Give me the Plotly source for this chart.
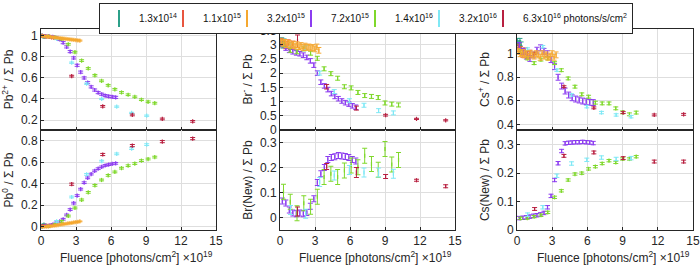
import plotly.graph_objects as go

# ---------------- series ----------------
NAMES = ["1.3x10<sup>14</sup>", "1.1x10<sup>15</sup>", "3.2x10<sup>15</sup>", "7.2x10<sup>15</sup>",
         "1.4x10<sup>16</sup>", "3.2x10<sup>16</sup>", "6.3x10<sup>16</sup> photons/s/cm<sup>2</sup>"]
COLORS = ["#2ca089", "#e8553f", "#f5a830", "#8c3cf0", "#7fd82b", "#7fe8f5", "#b82040"]

# ---------------- data (fluence in 1e19 photons/cm^2) ----------------
# 1.3e14
X_PB_TEAL = [0.05, 0.15, 0.25, 0.35]
PB2_TEAL = [1.0, 0.995, 0.99, 0.99]
PB0_TEAL = [0.005, 0.01, 0.02, 0.01]
X_HC_TEAL = [0.05, 0.15, 0.25, 0.35]
BRM_TEAL = [3.05, 3.12, 3.0, 3.08]
CSP_TEAL = [1.1, 1.08, 1.1, 1.07]

# 1.1e15
X_PB_RED = [0.1, 0.3, 0.5, 0.7, 0.9, 1.1]
PB2_RED = [1.0, 0.995, 0.99, 0.99, 0.985, 0.98]
PB0_RED = [0.005, 0.008, 0.01, 0.012, 0.015, 0.018]
X_HC_RED = [0.1, 0.3, 0.5, 0.7, 0.9, 1.1]
BRM_RED = [3.1, 3.05, 2.98, 3.05, 2.95, 3.0]
CSP_RED = [1.05, 1.03, 1.0, 1.02, 0.99, 1.0]

# 3.2e15
X_PB_ORANGE = [0.1, 0.27, 0.44, 0.61, 0.78, 0.95, 1.12, 1.29, 1.46, 1.63, 1.8, 1.97, 2.14, 2.31, 2.48,
               2.65, 2.82, 2.99, 3.16, 3.33]
PB2_ORANGE = [0.998, 0.996, 0.994, 0.992, 0.99, 0.988, 0.985, 0.982, 0.98, 0.978, 0.975, 0.973, 0.971,
              0.969, 0.966, 0.964, 0.962, 0.96, 0.957, 0.955]
PB0_ORANGE = [0.0, 0.0, 0.002, 0.004, 0.006, 0.008, 0.01, 0.013, 0.016, 0.019, 0.022, 0.025, 0.028, 0.031,
              0.034, 0.037, 0.04, 0.043, 0.046, 0.05]
X_HC_ORANGE = [0.1, 0.27, 0.44, 0.61, 0.78, 0.95, 1.12, 1.29, 1.46, 1.63, 1.8, 1.97, 2.14, 2.31, 2.48,
               2.65, 2.82, 2.99, 3.16, 3.33]
BRM_ORANGE = [3.1, 3.05, 3.08, 3.0, 3.05, 2.98, 3.02, 2.95, 3.0, 2.93, 2.97, 2.9, 2.95, 2.9, 2.92, 2.88,
              2.9, 2.85, 2.92, 2.8]
CSP_ORANGE = [1.02, 1.0, 1.01, 0.99, 1.0, 0.98, 1.0, 0.99, 0.98, 1.0, 0.99, 0.97, 1.0, 0.98, 0.99, 0.97,
              0.98, 1.0, 0.97, 0.99]

# 7.2e15
X_PB_PURPLE = [0.1, 0.4, 0.7, 1.0, 1.3, 1.6, 1.9, 2.2, 2.5, 2.8, 3.1, 3.4, 3.7, 4.0, 4.3, 4.6, 4.9, 5.2,
               5.5, 5.8, 6.1, 6.4]
PB2_PURPLE = [1.0, 0.997, 0.994, 0.99, 0.98, 0.965, 0.935, 0.895, 0.85, 0.79, 0.72, 0.655, 0.6, 0.555,
              0.515, 0.485, 0.46, 0.445, 0.432, 0.425, 0.42, 0.415]
PB0_PURPLE = [0.005, 0.008, 0.01, 0.02, 0.035, 0.05, 0.07, 0.11, 0.16, 0.22, 0.29, 0.35, 0.41, 0.455,
              0.49, 0.52, 0.54, 0.557, 0.57, 0.578, 0.585, 0.59]
X_HC_PURPLE = [0.2, 0.5, 0.8, 1.1, 1.4, 1.7, 2.0, 2.3, 2.6, 2.9, 3.2, 3.5, 3.8, 4.1, 4.4, 4.7, 5.0, 5.3,
               5.6, 5.9, 6.2, 6.5]
BRM_PURPLE = [3.0, 2.88, 2.8, 2.75, 2.71, 2.68, 2.63, 2.55, 2.43, 2.28, 2.0, 1.68, 1.55, 1.42, 1.28,
              1.18, 1.1, 1.02, 0.96, 0.91, 0.85, 0.8]
BRN_PURPLE = [0.066, 0.058, 0.03, 0.018, 0.015, 0.018, 0.015, 0.02, 0.045, 0.075, 0.14, 0.175, 0.2,
              0.232, 0.24, 0.243, 0.248, 0.246, 0.244, 0.24, 0.232, 0.226]
CSP_PURPLE = [1.07, 1.02, 0.98, 0.96, 0.99, 1.03, 1.05, 1.02, 1.0, 0.95, 0.89, 0.8, 0.725, 0.683, 0.649,
              0.626, 0.615, 0.607, 0.598, 0.592, 0.587, 0.585]
CSN_PURPLE = [0.042, 0.043, 0.045, 0.047, 0.05, 0.052, 0.055, 0.06, 0.08, 0.12, 0.176, 0.235, 0.278,
              0.305, 0.307, 0.308, 0.309, 0.309, 0.31, 0.309, 0.308, 0.306]

# 1.4e16
X_PB_GREEN = [0.06, 0.63, 1.2, 1.77, 2.34, 2.91, 3.48, 4.05, 4.62, 5.19, 5.76, 6.33, 6.9, 7.47, 8.04,
              8.61, 9.18, 9.75]
PB2_GREEN = [1.0, 0.995, 0.985, 0.97, 0.92, 0.845, 0.765, 0.69, 0.625, 0.572, 0.53, 0.492, 0.462, 0.44,
             0.42, 0.393, 0.373, 0.36]
PB0_GREEN = [0.0, 0.005, 0.02, 0.05, 0.1, 0.175, 0.25, 0.32, 0.385, 0.435, 0.478, 0.51, 0.545, 0.568,
             0.588, 0.615, 0.63, 0.648]
X_HC_GREEN = [0.3, 0.88, 1.46, 2.04, 2.62, 3.2, 3.78, 4.36, 4.94, 5.52, 6.1, 6.68, 7.26, 7.84, 8.42,
              9.0, 9.58, 10.16]
BRM_GREEN = [3.0, 2.8, 2.75, 2.85, 2.7, 2.52, 2.15, 1.98, 1.82, 1.52, 1.48, 1.32, 1.21, 1.18, 1.14,
             0.95, 0.91, 0.88]
BRN_GREEN = [0.103, 0.063, 0.017, 0.057, 0.043, 0.083, 0.162, 0.175, 0.162, 0.188, 0.208, 0.201, 0.247,
             0.214, 0.191, 0.274, 0.212, 0.23]
CSP_GREEN = [1.02, 0.96, 0.92, 0.95, 0.96, 0.92, 0.86, 0.79, 0.72, 0.655, 0.635, 0.584, 0.578, 0.578,
             0.536, 0.502, 0.485, 0.5]
CSN_GREEN = [0.041, 0.042, 0.047, 0.052, 0.062, 0.115, 0.138, 0.176, 0.197, 0.2, 0.215, 0.223, 0.234,
             0.244, 0.238, 0.25, 0.25, 0.258]

# 3.2e16
X_PB_CYAN = [0.05, 1.34, 2.63, 3.91, 5.2, 6.49, 7.77, 9.06]
PB2_CYAN = [1.0, 0.97, 0.745, 0.545, 0.4, 0.327, 0.267, 0.241]
PB0_CYAN = [0.0, 0.05, 0.277, 0.487, 0.61, 0.678, 0.727, 0.764]
X_HC_CYAN = [0.9, 2.2, 3.4, 4.65, 5.95, 7.2, 8.45, 9.72]
BRM_CYAN = [3.0, 2.9, 2.0, 1.35, 1.03, 0.87, 0.68, 0.6]
BRN_CYAN = [0.03, 0.015, 0.142, 0.168, 0.19, 0.18, 0.18, 0.175]
CSP_CYAN = [1.04, 1.06, 0.86, 0.65, 0.55, 0.5, 0.48, 0.465]
CSN_CYAN = [0.054, 0.08, 0.191, 0.234, 0.247, 0.255, 0.25, 0.253]

# 6.3e16
X_PB_DRED = [0.1, 2.63, 5.29, 7.83, 10.4, 13.0]
PB2_DRED = [1.0, 0.617, 0.33, 0.248, 0.21, 0.187]
PB0_DRED = [0.005, 0.396, 0.672, 0.755, 0.792, 0.82]
X_HC_DRED = [1.5, 4.0, 6.55, 9.05, 11.7, 14.2]
BRM_DRED = [3.12, 1.52, 0.77, 0.52, 0.39, 0.34]
BRN_DRED = [0.024, 0.204, 0.18, 0.164, 0.149, 0.125]
CSP_DRED = [1.0, 0.72, 0.54, 0.5, 0.48, 0.485]
CSN_DRED = [0.074, 0.261, 0.273, 0.253, 0.241, 0.241]

# error bars (half-widths) per series: teal, red, orange, purple, green, cyan, dark red
ERR_PB2 = [0.006, 0.006, 0.005, 0.01, 0.008, 0.006, 0.008]
ERR_PB0 = [0.006, 0.006, 0.004, 0.008, 0.008, 0.008, 0.01]
ERR_BRM = [0.12, 0.12, 0.1, 0.08, 0.07, 0.07, [0.22, 0.08, 0.07, 0.03, 0.02, 0.02]]
ERR_BRN = [0, 0, 0, 0.012, 0.03, 0.018, [0.018, 0.012, 0.02, 0.008, 0.004, 0.006]]
ERR_CSP = [0.03, 0.03, 0.025, 0.025, 0.012, 0.01, 0.008]
ERR_CSN = [0, 0, 0, 0.006, 0.004, 0.006, 0.005]

# ---------------- panels ----------------
PANELS = [
    (1, [(0, X_PB_TEAL, PB2_TEAL), (1, X_PB_RED, PB2_RED), (3, X_PB_PURPLE, PB2_PURPLE),
         (4, X_PB_GREEN, PB2_GREEN), (5, X_PB_CYAN, PB2_CYAN), (6, X_PB_DRED, PB2_DRED),
         (2, X_PB_ORANGE, PB2_ORANGE)], ERR_PB2),
    (2, [(0, X_HC_TEAL, BRM_TEAL), (1, X_HC_RED, BRM_RED), (3, X_HC_PURPLE, BRM_PURPLE),
         (4, X_HC_GREEN, BRM_GREEN), (5, X_HC_CYAN, BRM_CYAN), (6, X_HC_DRED, BRM_DRED),
         (2, X_HC_ORANGE, BRM_ORANGE)], ERR_BRM),
    (3, [(0, X_HC_TEAL, CSP_TEAL), (1, X_HC_RED, CSP_RED), (3, X_HC_PURPLE, CSP_PURPLE),
         (4, X_HC_GREEN, CSP_GREEN), (5, X_HC_CYAN, CSP_CYAN), (6, X_HC_DRED, CSP_DRED),
         (2, X_HC_ORANGE, CSP_ORANGE)], ERR_CSP),
    (4, [(0, X_PB_TEAL, PB0_TEAL), (1, X_PB_RED, PB0_RED), (3, X_PB_PURPLE, PB0_PURPLE),
         (4, X_PB_GREEN, PB0_GREEN), (5, X_PB_CYAN, PB0_CYAN), (6, X_PB_DRED, PB0_DRED),
         (2, X_PB_ORANGE, PB0_ORANGE)], ERR_PB0),
    (5, [(3, X_HC_PURPLE, BRN_PURPLE), (4, X_HC_GREEN, BRN_GREEN), (5, X_HC_CYAN, BRN_CYAN),
         (6, X_HC_DRED, BRN_DRED)], ERR_BRN),
    (6, [(3, X_HC_PURPLE, CSN_PURPLE), (4, X_HC_GREEN, CSN_GREEN), (5, X_HC_CYAN, CSN_CYAN),
         (6, X_HC_DRED, CSN_DRED)], ERR_CSN),
]

fig = go.Figure()
for ax, series, errs in PANELS:
    suffix = "" if ax == 1 else str(ax)
    for s, xs, ys in series:
        e = errs[s]
        ey = dict(type="data", array=e, visible=True) if isinstance(e, list) else \
            dict(type="constant", value=e, visible=True)
        ey.update(color=COLORS[s], thickness=1, width=2.5)
        fig.add_trace(go.Scatter(
            x=xs, y=ys, mode="markers", xaxis="x" + suffix, yaxis="y" + suffix,
            name=NAMES[s], legendgroup=str(s), showlegend=False,
            marker=dict(symbol="line-ns-open", size=3, color=COLORS[s],
                        line=dict(color=COLORS[s], width=1.2)),
            error_y=ey, hoverinfo="skip"))

# legend entries (one per series, in order)
for s in range(7):
    fig.add_trace(go.Scatter(
        x=[None], y=[None], mode="markers", name=NAMES[s], legendgroup=str(s),
        showlegend=True, legendwidth=(104 if s == 6 else 19),
        marker=dict(symbol="line-ns-open", size=3, color=COLORS[s],
                    line=dict(color=COLORS[s], width=1.5))))

W, H = 700, 268
COLS = [(41, 216), (280, 455), (517, 693)]
ROWS = [(29, 130), (130, 230)]
YTITLES = ["Pb<sup>2+</sup> / \u03a3 Pb", "Br<sup>-</sup> / \u03a3 Pb", "Cs<sup>+</sup> / \u03a3 Pb",
           "Pb<sup>0</sup> / \u03a3 Pb", "Br(New) / \u03a3 Pb", "Cs(New) / \u03a3 Pb"]
YRANGES = [[0.105, 1.065], [0, 3.55], [0.352, 1.21], [-0.03, 0.9], [-0.05, 0.35], [0, 0.352]]
YTICKS = [[0.2, 0.4, 0.6, 0.8, 1], [0, 0.5, 1, 1.5, 2, 2.5, 3, 3.5], [0.4, 0.6, 0.8, 1],
          [0, 0.2, 0.4, 0.6, 0.8], [0, 0.1, 0.2, 0.3], [0, 0.1, 0.2, 0.3]]
XTICKS = [0, 3, 6, 9, 12, 15]

AXC = "#262626"
FONT = "Liberation Sans, Arial, Helvetica, sans-serif"
common = dict(showline=True, linecolor=AXC, linewidth=1, mirror=True, ticks="inside", ticklen=3,
              tickcolor=AXC, showgrid=True, gridcolor="#dedede", gridwidth=1, zeroline=False,
              automargin=False, tickfont=dict(size=12, color=AXC, family=FONT))

layout = {}
for i in range(6):
    r, c = divmod(i, 3)
    suffix = "" if i == 0 else str(i + 1)
    x0, x1 = COLS[c]
    ytop, ybot = ROWS[r]
    layout["xaxis" + suffix] = dict(common, domain=[x0 / W, x1 / W], range=[0, 15], tickvals=XTICKS,
                                    showticklabels=(r == 1), anchor="y" + suffix)
    layout["yaxis" + suffix] = dict(common, domain=[1 - ybot / H, 1 - ytop / H], range=YRANGES[i],
                                    tickvals=YTICKS[i], anchor="x" + suffix,
                                    title=dict(text=YTITLES[i], standoff=4,
                                               font=dict(size=12, color=AXC, family=FONT)))

annotations = []
for c in range(3):
    x0, x1 = COLS[c]
    annotations.append(dict(
        text="Fluence [photons/cm<sup>2</sup>] \u00d710<sup>19</sup>", xref="paper", yref="paper",
        x=((x0 + x1) / 2 + 8) / W, y=1 - 257 / H, xanchor="center", yanchor="middle",
        showarrow=False, font=dict(size=12, color=AXC, family=FONT)))

fig.update_layout(
    **layout,
    annotations=annotations,
    width=W, height=H, margin=dict(l=0, r=0, t=0, b=0, autoexpand=False),
    paper_bgcolor="white", plot_bgcolor="white",
    font=dict(family=FONT, color=AXC),
    legend=dict(orientation="h", x=366 / W, xanchor="center", y=1 - 3 / H, yanchor="top",
                bordercolor=AXC, borderwidth=1, bgcolor="white", itemsizing="constant",
                font=dict(size=10, color="#111", family=FONT), itemwidth=30),
)

fig.write_html("out.html", config={"displayModeBar": False},
               post_script="document.body.style.margin='0px';document.body.style.overflow='hidden';")
